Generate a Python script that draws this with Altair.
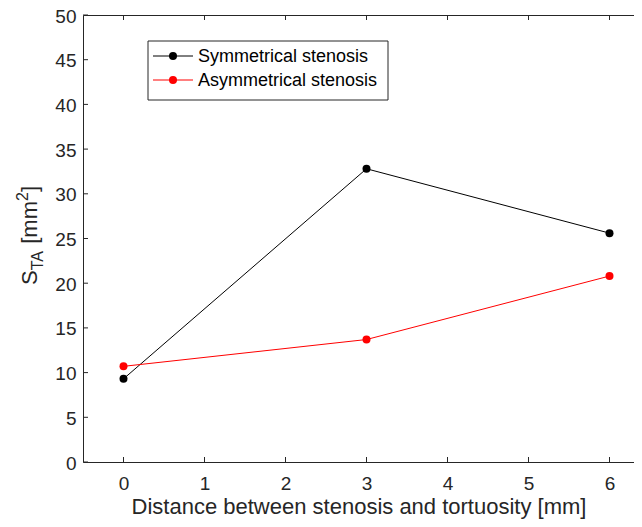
import altair as alt
import pandas as pd

# ---- data ----
distance = [0, 3, 6]
sym_values = [9.3, 32.8, 25.6]
asym_values = [10.7, 13.7, 20.8]
series = ["Symmetrical stenosis", "Asymmetrical stenosis"]
colors = ["#000000", "#ff0000"]
x_ticks = [0, 1, 2, 3, 4, 5, 6]
y_ticks = [0, 5, 10, 15, 20, 25, 30, 35, 40, 45, 50]
x_title = "Distance between stenosis and tortuosity [mm]"
y_title_parts = ["S", "TA", " [mm", "2", "]"]

FONT = "Liberation Sans"
AX = "#262626"
W, H = 551, 447
PX_PER_UNIT = 81.0
TICK = 19
TITLE = 22
SUB = 16
LEG = 18

sym_df = pd.DataFrame({"x": distance, "y": sym_values})
asym_df = pd.DataFrame({"x": distance, "y": asym_values})
xt_df = pd.DataFrame({"t": x_ticks})
yt_df = pd.DataFrame({"t": y_ticks})
one = pd.DataFrame({"a": [0]})

xs = alt.Scale(domain=[-0.5, -0.5 + W / PX_PER_UNIT], nice=False, zero=False)
ys = alt.Scale(domain=[0, 50], nice=False, zero=False)

bottom_axis = alt.Axis(values=x_ticks, ticks=False, grid=False, domainColor=AX,
                       domainWidth=1, labelColor=AX, labelFont=FONT, labelFontSize=TICK,
                       labelPadding=12, title=x_title, titleFont=FONT,
                       titleFontSize=TITLE, titleFontWeight="normal", titleColor=AX,
                       titlePadding=3)
left_axis = alt.Axis(values=y_ticks, ticks=False, grid=False, domainColor=AX,
                     domainWidth=1, labelColor=AX, labelFont=FONT, labelFontSize=TICK,
                     labelPadding=7, labelOffset=1, title=None)
top_axis = alt.Axis(orient="top", ticks=False, labels=False, grid=False,
                    domainColor=AX, domainWidth=1, title=None)


def series_layers(df, col):
    enc_x = alt.X("x:Q", scale=xs, axis=None)
    enc_y = alt.Y("y:Q", scale=ys, axis=None)
    line = alt.Chart(df).mark_line(strokeWidth=1, color=col).encode(x=enc_x, y=enc_y)
    pts = alt.Chart(df).mark_point(filled=True, size=64, opacity=1, color=col).encode(x=enc_x, y=enc_y)
    return [line, pts]


axes_layer = alt.Chart(sym_df).mark_point(opacity=0).encode(
    x=alt.X("x:Q", scale=xs, axis=bottom_axis),
    y=alt.Y("y:Q", scale=ys, axis=left_axis),
)
top_layer = alt.Chart(sym_df).mark_point(opacity=0).encode(
    x=alt.X("x:Q", scale=xs, axis=top_axis),
    y=alt.Y("y:Q", scale=ys, axis=None),
)

bt = alt.Chart(xt_df).mark_rule(color=AX, strokeWidth=1).encode(
    x=alt.X("t:Q", scale=xs, axis=None), y=alt.value(H), y2=alt.value(H - 5))
tt = alt.Chart(xt_df).mark_rule(color=AX, strokeWidth=1).encode(
    x=alt.X("t:Q", scale=xs, axis=None), y=alt.value(0), y2=alt.value(5))
lt = alt.Chart(yt_df).mark_rule(color=AX, strokeWidth=1).encode(
    y=alt.Y("t:Q", scale=ys, axis=None), x=alt.value(0), x2=alt.value(5))

# legend
leg_box = alt.Chart(one).mark_rect(fill="white", stroke=AX, strokeWidth=1).encode(
    x=alt.value(65), x2=alt.value(305), y=alt.value(26), y2=alt.value(85))
leg_layers = [leg_box]
for i, (name, col) in enumerate(zip(series, colors)):
    yy = 41 + 24 * i
    leg_layers.append(alt.Chart(one).mark_rule(color=col, strokeWidth=1).encode(
        x=alt.value(70), x2=alt.value(110), y=alt.value(yy)))
    leg_layers.append(alt.Chart(one).mark_point(filled=True, size=64, opacity=1, color=col).encode(
        x=alt.value(90), y=alt.value(yy)))
    leg_layers.append(alt.Chart(one).mark_text(align="left", baseline="middle", font=FONT,
                                               fontSize=LEG, color="#000").encode(
        x=alt.value(115), y=alt.value(yy + 1), text=alt.value(name)))

# y title with sub/superscript, laid out along the rotated baseline
ARIAL_W = {"S": 667, "T": 611, "A": 667, " ": 278, "[": 278, "m": 833, "2": 556, "]": 278}
styles = [(TITLE, -46), (SUB, -40), (TITLE, -46), (SUB, -55), (TITLE, -46)]
ytitle_layers = []
pos = 270.0
for txt, (fs, xx) in zip(y_title_parts, styles):
    lead = len(txt) - len(txt.lstrip(" "))
    pos -= lead * ARIAL_W[" "] / 1000.0 * fs  # leading spaces are dropped by SVG
    shown = txt.lstrip(" ")
    ytitle_layers.append(alt.Chart(one).mark_text(angle=270, align="left", baseline="alphabetic",
                                                  font=FONT, fontSize=fs, color=AX).encode(
        x=alt.value(xx), y=alt.value(pos), text=alt.value(shown)))
    pos -= sum(ARIAL_W[c] for c in shown) / 1000.0 * fs

layers = [axes_layer, top_layer, bt, tt, lt]
layers += series_layers(sym_df, colors[0])
layers += series_layers(asym_df, colors[1])
layers += leg_layers + ytitle_layers

chart = alt.layer(*layers).resolve_axis(x="independent", y="independent").properties(
    width=W, height=H,
    autosize=alt.AutoSizeParams(type="none"),
    padding={"left": 75, "top": 7, "right": 0, "bottom": 57},
).configure_view(stroke=None).configure(background="white")

chart.save("out.html", embed_options={"renderer": "svg", "actions": False})
